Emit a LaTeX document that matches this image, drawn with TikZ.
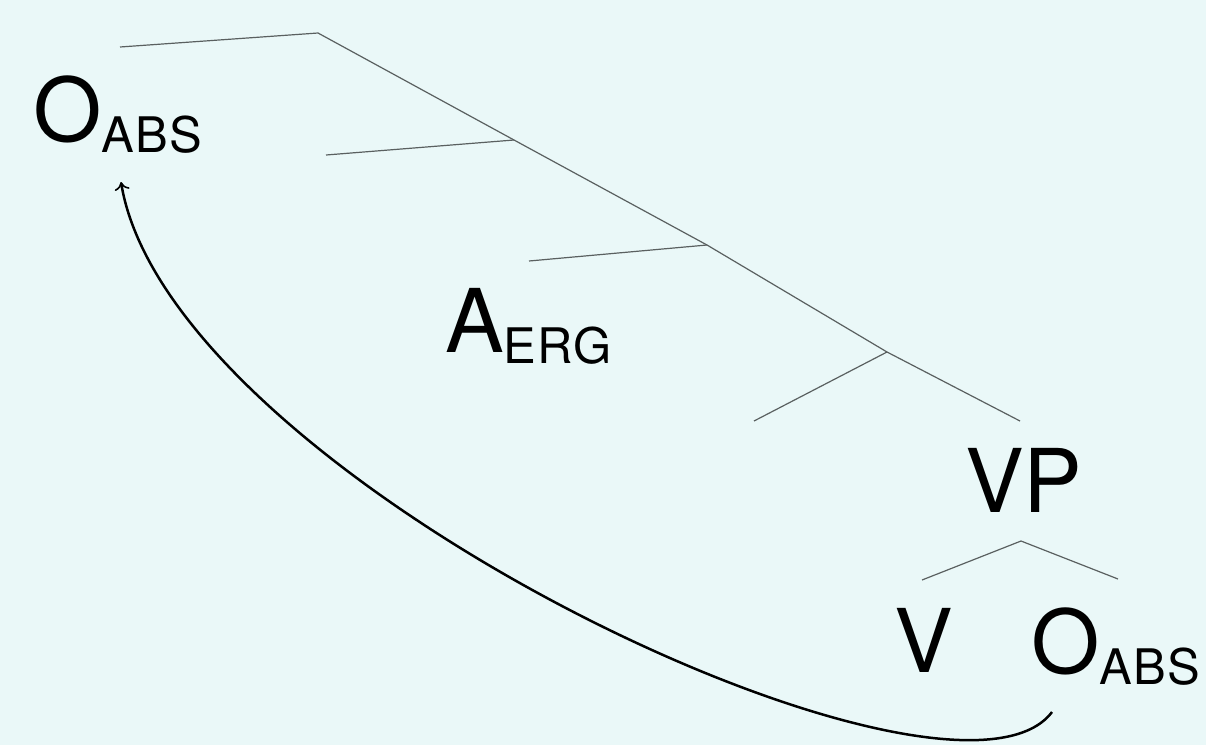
\documentclass[tikz,border=0pt]{standalone}
\usepackage{fontspec}
\setmainfont{TeX Gyre Heros}
\usetikzlibrary{arrows.meta}
\definecolor{bgc}{RGB}{234,248,248}
\definecolor{treeline}{RGB}{90,96,96}
\tikzset{
  lbl/.style={inner sep=0pt, outer sep=0pt, anchor=base west, font=\fontsize{88}{88}\selectfont},
  branch/.style={draw=treeline, line width=1.2pt},
  move/.style={draw=black, line width=2.5pt, -{To[length=8pt,width=15pt,line width=1.6pt]}}
}
\newcommand{\subtxt}[1]{\raisebox{-11pt}{\fontsize{49}{49}\selectfont\addfontfeature{LetterSpace=3}#1}}
\begin{document}
\begin{tikzpicture}[x=1pt,y=-1pt]
\fill[bgc] (0,0) rectangle (1206,745);
\useasboundingbox (0,0) rectangle (1206,745);
% labels
\node[lbl] (oabsA) at (33,141) {O\subtxt{ABS}};
\node[lbl] (aerg) at (445,352) {A\subtxt{ERG}};
\node[lbl] (vp) at (965,512) {VP};
\node[lbl] (v) at (894,672) {V};
\node[lbl] (oabsB) at (1031,673) {O\subtxt{ABS}};
% tree points
\coordinate (t0) at (120,47);
\coordinate (t1) at (318,33);
\coordinate (t2) at (514,140);
\coordinate (t3) at (707,245);
\coordinate (t4) at (887,352);
\coordinate (t5) at (1020,421);
\coordinate (b2) at (326,155);
\coordinate (b3) at (529,261);
\coordinate (b4) at (754,421);
\coordinate (vpt) at (1021,541);
\coordinate (vl) at (922,580);
\coordinate (vr) at (1118,579);
\draw[branch] (t0) -- (t1) -- (t2) -- (t3) -- (t4) -- (t5);
\draw[branch] (b2) -- (t2);
\draw[branch] (b3) -- (t3);
\draw[branch] (b4) -- (t4);
\draw[branch] (vl) -- (vpt) -- (vr);
% movement arrow
\coordinate (mstart) at (1052,712);
\coordinate (mend) at (121,182);
\draw[move] (mstart) .. controls (952,845) and (170,480) .. (mend);
\end{tikzpicture}
\end{document}
